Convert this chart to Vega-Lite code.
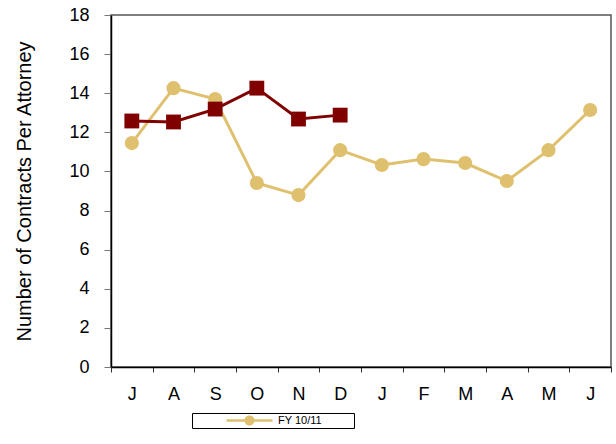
{
  "$schema": "https://vega.github.io/schema/vega-lite/v6.json",
  "width": 500,
  "height": 352,
  "autosize": {"type": "none"},
  "padding": {"left": 111, "top": 15, "right": 5, "bottom": 77},
  "config": {
    "font": "Liberation Sans",
    "view": {"stroke": "#555555", "strokeWidth": 1.5}
  },
  "data": {
    "values": [
      {"month": "Jul", "series": "FY 10/11", "value": 11.45},
      {"month": "Aug", "series": "FY 10/11", "value": 14.26},
      {"month": "Sep", "series": "FY 10/11", "value": 13.7},
      {"month": "Oct", "series": "FY 10/11", "value": 9.41},
      {"month": "Nov", "series": "FY 10/11", "value": 8.79},
      {"month": "Dec", "series": "FY 10/11", "value": 11.09},
      {"month": "Jan", "series": "FY 10/11", "value": 10.33},
      {"month": "Feb", "series": "FY 10/11", "value": 10.63},
      {"month": "Mar", "series": "FY 10/11", "value": 10.43},
      {"month": "Apr", "series": "FY 10/11", "value": 9.51},
      {"month": "May", "series": "FY 10/11", "value": 11.09},
      {"month": "Jun", "series": "FY 10/11", "value": 13.14},
      {"month": "Jul", "series": "FY 11/12", "value": 12.58},
      {"month": "Aug", "series": "FY 11/12", "value": 12.53},
      {"month": "Sep", "series": "FY 11/12", "value": 13.19},
      {"month": "Oct", "series": "FY 11/12", "value": 14.26},
      {"month": "Nov", "series": "FY 11/12", "value": 12.68},
      {"month": "Dec", "series": "FY 11/12", "value": 12.88}
    ]
  },
  "encoding": {
    "x": {
      "field": "month",
      "type": "ordinal",
      "sort": ["Jul", "Aug", "Sep", "Oct", "Nov", "Dec", "Jan", "Feb", "Mar", "Apr", "May", "Jun"],
      "scale": {"type": "band", "paddingInner": 0, "paddingOuter": 0},
      "axis": {
        "title": null,
        "labelAngle": 0,
        "labelExpr": "substring(datum.label, 0, 1)",
        "tickBand": "extent",
        "tickSize": 5,
        "tickColor": "#333333",
        "domainColor": "black",
        "domainWidth": 1.5,
        "labelFontSize": 18,
        "labelColor": "black",
        "labelPadding": 13
      }
    },
    "y": {
      "field": "value",
      "type": "quantitative",
      "scale": {"domain": [0, 18]},
      "axis": {
        "title": "Number of Contracts Per Attorney",
        "values": [0, 2, 4, 6, 8, 10, 12, 14, 16, 18],
        "grid": false,
        "tickSize": 7,
        "tickColor": "#777777",
        "domainColor": "black",
        "domainWidth": 1.5,
        "labelFontSize": 18,
        "labelColor": "black",
        "labelPadding": 15,
        "titleFontSize": 20,
        "titleFontWeight": "normal",
        "titleColor": "black",
        "titleX": -87,
        "titleY": 176,
        "titleBaseline": "middle"
      }
    }
  },
  "layer": [
    {
      "mark": {"type": "line", "strokeWidth": 3},
      "encoding": {
        "stroke": {
          "field": "series",
          "type": "nominal",
          "scale": {"domain": ["FY 10/11", "FY 11/12"], "range": ["#DFC06E", "#800000"]},
          "legend": {
            "values": ["FY 10/11"],
            "title": null,
            "orient": "none",
            "legendX": 81,
            "legendY": 398,
            "strokeColor": "black",
            "fillColor": "white",
            "padding": 2,
            "labelFontSize": 11,
            "labelColor": "black",
            "symbolOffset": 50,
            "labelOffset": 23,
            "labelExpr": "datum.label + '\u2003\u2003\u2800'",
            "symbolType": "M-4.6,-0.25H4.6V0.25H-4.6Z M1,0A1,1 0 1,1 -1,0A1,1 0 1,1 1,0Z",
            "symbolSize": 100,
            "symbolStrokeWidth": 0,
            "symbolFillColor": "#DFC06E"
          }
        }
      }
    },
    {
      "transform": [{"filter": "datum.series === 'FY 10/11'"}],
      "mark": {"type": "circle", "opacity": 1, "size": 200, "color": "#DFC06E"}
    },
    {
      "transform": [{"filter": "datum.series === 'FY 11/12'"}],
      "mark": {"type": "square", "opacity": 1, "size": 220, "color": "#800000"}
    }
  ]
}
